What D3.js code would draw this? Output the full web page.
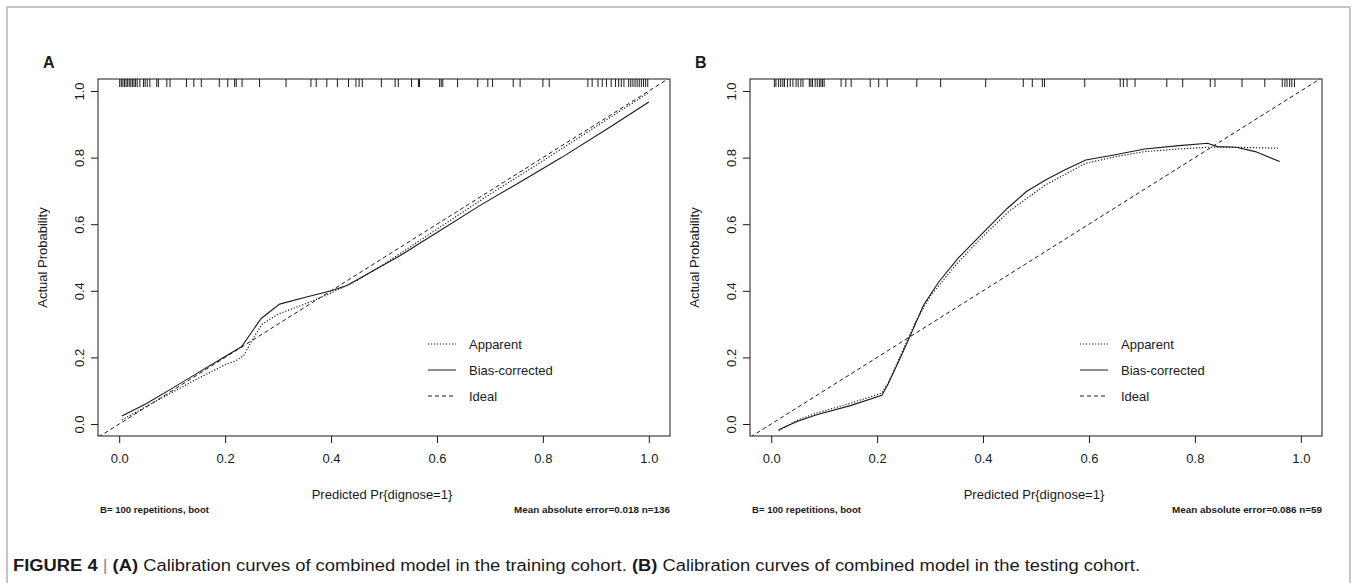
<!DOCTYPE html>
<html>
<head>
<meta charset="utf-8">
<script src="https://cdn.jsdelivr.net/npm/d3@7"></script>
<style>
  html, body { margin: 0; padding: 0; background: #fff; }
  svg { display: block; }
  text { font-family: "Liberation Sans", Arial, sans-serif; fill: #1a1a1a; }
</style>
</head>
<body>
<svg id="chart" width="1356" height="583"></svg>
<script>
// ---------------- data ----------------
const xTicks = [0, 0.2, 0.4, 0.6, 0.8, 1.0];
const yTicks = [0, 0.2, 0.4, 0.6, 0.8, 1.0];
const legendLabels = ["Apparent", "Bias-corrected", "Ideal"];
const panelLabels = ["A", "B"];
const xTitle = "Predicted Pr{dignose=1}";
const yTitle = "Actual Probability";
const footLeft = ["B= 100 repetitions, boot", "B= 100 repetitions, boot"];
const footRight = ["Mean absolute error=0.018 n=136", "Mean absolute error=0.086 n=59"];

// rug of predicted probabilities (top of each panel)
const rugA = [0.001,0.004,0.007,0.010,0.013,0.016,0.019,0.022,0.025,0.028,0.031,0.034,
  0.039,0.046,0.049,0.053,0.058,0.071,0.074,0.090,0.096,0.127,0.141,0.155,0.189,0.205,
  0.218,0.221,0.232,0.265,0.315,0.362,0.372,0.392,0.412,0.433,0.447,0.453,0.459,0.495,
  0.521,0.527,0.552,0.565,0.567,0.605,0.608,0.611,0.639,0.677,0.696,0.705,0.744,0.757,
  0.800,0.812,0.885,0.893,0.904,0.912,0.920,0.929,0.937,0.943,0.948,0.953,
  0.962,0.966,0.970,0.974,0.978,0.982,0.986,0.990,0.994,0.998];
const rugB = [0.006,0.009,0.014,0.018,0.022,0.025,0.031,0.036,0.041,0.047,0.051,0.056,
  0.060,0.072,0.075,0.078,0.083,0.087,0.091,0.094,0.097,0.100,0.132,0.141,0.151,0.187,
  0.203,0.219,0.275,0.320,0.405,0.476,0.493,0.512,0.516,0.592,0.659,0.665,0.672,0.687,
  0.747,0.777,0.829,0.838,0.889,0.932,0.965,0.970,0.974,0.979,0.983,0.988];

// Panel A curves
const apparentAx = [0.005,0.05,0.10,0.15,0.20,0.22,0.235,0.25,0.27,0.30,0.35,0.40,0.45,0.50,0.60,0.70,0.80,0.90,1.00];
const apparentAy = [0.012,0.052,0.095,0.138,0.178,0.190,0.205,0.250,0.300,0.330,0.360,0.393,0.432,0.480,0.585,0.690,0.790,0.893,0.995];
const biasAx = [0.005,0.05,0.10,0.15,0.20,0.231,0.268,0.303,0.35,0.40,0.43,0.53,0.60,0.68,0.75,0.835,0.93,1.00];
const biasAy = [0.024,0.060,0.107,0.155,0.203,0.232,0.317,0.360,0.380,0.400,0.416,0.505,0.575,0.655,0.720,0.800,0.895,0.967];

// Panel B curves
const apparentBx = [0.014,0.05,0.086,0.151,0.209,0.22,0.245,0.273,0.302,0.35,0.396,0.45,0.518,0.594,0.65,0.705,0.77,0.824,0.878,0.957];
const apparentBy = [-0.020,0.012,0.033,0.063,0.093,0.120,0.208,0.308,0.388,0.480,0.558,0.640,0.718,0.783,0.803,0.818,0.826,0.831,0.831,0.828];
const biasBx = [0.014,0.05,0.086,0.151,0.209,0.22,0.245,0.266,0.288,0.317,0.353,0.396,0.446,0.482,0.518,0.554,0.594,0.647,0.705,0.77,0.824,0.842,0.878,0.914,0.96];
const biasBy = [-0.017,0.008,0.028,0.056,0.086,0.118,0.203,0.278,0.358,0.428,0.498,0.568,0.648,0.698,0.733,0.763,0.793,0.808,0.826,0.836,0.843,0.833,0.831,0.818,0.788];

const captionParts = [
  {t: "FIGURE 4", w: "bold"},
  {t: " | ", w: "normal", fill: "#888"},
  {t: "(A)", w: "bold"},
  {t: " Calibration curves of combined model in the training cohort. ", w: "normal"},
  {t: "(B)", w: "bold"},
  {t: " Calibration curves of combined model in the testing cohort.", w: "normal"}
];

// ---------------- drawing ----------------
const svg = d3.select("#chart");
const ink = "#1a1a1a";

// outer figure frame
svg.append("rect").attr("x", 7).attr("y", 7).attr("width", 1343).attr("height", 600)
  .attr("fill", "none").attr("stroke", "#b3b3b3").attr("stroke-width", 1.5);

const panels = [
  {left: 98, label: panelLabels[0], rug: rugA,
   app: apparentAx.map((x, i) => [x, apparentAy[i]]),
   bias: biasAx.map((x, i) => [x, biasAy[i]]),
   footL: footLeft[0], footR: footRight[0]},
  {left: 750, label: panelLabels[1], rug: rugB,
   app: apparentBx.map((x, i) => [x, apparentBy[i]]),
   bias: biasBx.map((x, i) => [x, biasBy[i]]),
   footL: footLeft[1], footR: footRight[1]}
];

const plotTop = 79, W = 572, H = 357;

function fitWidth(sel, target) {
  sel.attr("textLength", target).attr("lengthAdjust", "spacingAndGlyphs");
}

panels.forEach((p, pi) => {
  const g = svg.append("g");
  const x = d3.scaleLinear().domain([-0.04, 1.04]).range([p.left, p.left + W]);
  const y = d3.scaleLinear().domain([-0.036, 1.036]).range([plotTop + H, plotTop]);

  const clipId = "clip" + pi;
  svg.append("clipPath").attr("id", clipId).append("rect")
    .attr("x", p.left).attr("y", plotTop).attr("width", W).attr("height", H);

  // axes
  const xAxis = d3.axisBottom(x).tickValues(xTicks).tickFormat(d3.format(".1f")).tickSizeOuter(0).tickSize(7).tickPadding(11);
  const gx = g.append("g").attr("transform", `translate(0,${plotTop + H})`).call(xAxis);
  gx.select(".domain").remove();
  gx.selectAll("line").attr("stroke", ink);
  gx.selectAll("text").attr("font-size", 13).attr("fill", ink)
    .attr("font-family", "Liberation Sans, Arial, sans-serif");

  const yAxis = d3.axisLeft(y).tickValues(yTicks).tickFormat(d3.format(".1f")).tickSizeOuter(0).tickSize(7);
  const gy = g.append("g").attr("transform", `translate(${p.left},0)`).call(yAxis);
  gy.select(".domain").remove();
  gy.selectAll("line").attr("stroke", ink);
  gy.selectAll("text").remove();
  gy.selectAll(".tick").append("text")
    .attr("transform", "translate(-19,0) rotate(-90)")
    .attr("text-anchor", "middle")
    .attr("dy", "0.35em")
    .attr("font-size", 13).attr("fill", ink)
    .attr("font-family", "Liberation Sans, Arial, sans-serif")
    .text(d => d3.format(".1f")(d));

  // box
  g.append("rect").attr("x", p.left).attr("y", plotTop).attr("width", W).attr("height", H)
    .attr("fill", "none").attr("stroke", ink).attr("stroke-width", 1);

  // rug
  g.append("g").selectAll("line").data(p.rug).join("line")
    .attr("x1", d => x(d)).attr("x2", d => x(d))
    .attr("y1", plotTop).attr("y2", plotTop + 8)
    .attr("stroke", ink).attr("stroke-width", 1);

  const line = d3.line().x(d => x(d[0])).y(d => y(d[1]));
  const cg = g.append("g").attr("clip-path", `url(#${clipId})`);
  // ideal
  cg.append("path").datum([[-0.05, -0.05], [1.05, 1.05]]).attr("d", line)
    .attr("fill", "none").attr("stroke", ink).attr("stroke-width", 1).attr("stroke-dasharray", "4,3");
  // apparent
  cg.append("path").datum(p.app).attr("d", line)
    .attr("fill", "none").attr("stroke", ink).attr("stroke-width", 1.2).attr("stroke-dasharray", "1.2,1.8");
  // bias-corrected
  cg.append("path").datum(p.bias).attr("d", line)
    .attr("fill", "none").attr("stroke", ink).attr("stroke-width", 1.1);

  // legend
  const lx = p.left + 330, ly0 = 344, lstep = 26;
  const dashes = ["1.2,1.8", null, "4,3"];
  legendLabels.forEach((lab, i) => {
    const yy = ly0 + i * lstep;
    const ln = g.append("line").attr("x1", lx).attr("x2", lx + 28).attr("y1", yy).attr("y2", yy)
      .attr("stroke", ink).attr("stroke-width", i === 0 ? 1.2 : 1);
    if (dashes[i]) ln.attr("stroke-dasharray", dashes[i]);
    g.append("text").attr("x", lx + 41).attr("y", yy).attr("dy", "0.35em")
      .attr("font-size", 13).text(lab);
  });

  // titles
  g.append("text").attr("x", p.left + W / 2 - 2).attr("y", 499).attr("text-anchor", "middle")
    .attr("font-size", 13).text(xTitle);
  g.append("text").attr("transform", `translate(${p.left - 51},${plotTop + H / 2}) rotate(-90)`)
    .attr("text-anchor", "middle").attr("font-size", 13).text(yTitle);

  // panel label
  g.append("text").attr("x", p.left - 55).attr("y", 68).attr("font-size", 16)
    .attr("font-weight", "bold").attr("fill", "#000").text(p.label);

  // footnotes
  const fl = g.append("text").attr("x", p.left + 2).attr("y", 513).attr("font-size", 9.5)
    .attr("font-weight", "bold").attr("fill", "#333").text(p.footL);
  fitWidth(fl, 109);
  const frW = pi === 0 ? 156 : 150;
  const fr = g.append("text").attr("x", p.left + W - frW).attr("y", 513).attr("font-size", 9.5)
    .attr("font-weight", "bold").attr("fill", "#333").text(p.footR);
  fitWidth(fr, frW);
});

// caption
const cap = svg.append("text").attr("x", 13).attr("y", 571).attr("font-size", 16).attr("fill", "#231f20");
captionParts.forEach(c => {
  const ts = cap.append("tspan").attr("font-weight", c.w).text(c.t);
  if (c.fill) ts.attr("fill", c.fill);
});
fitWidth(cap, 1127);
</script>
</body>
</html>
